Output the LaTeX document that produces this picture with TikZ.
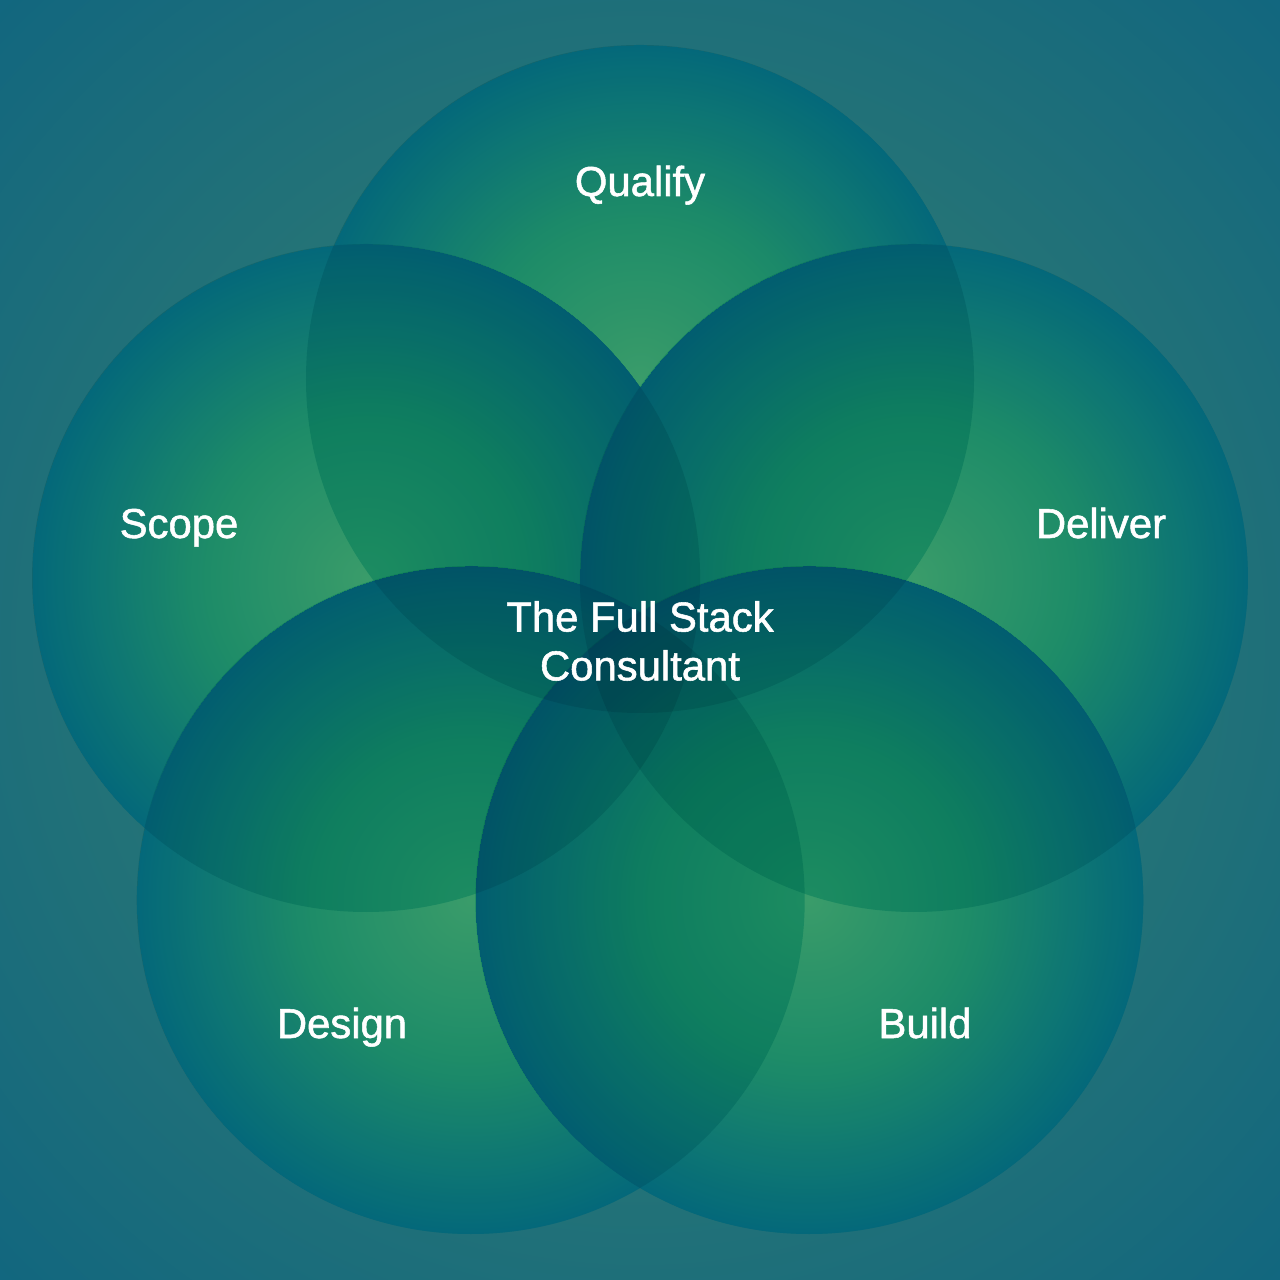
\documentclass[tikz,border=0pt]{standalone}
\usepackage{fontspec}
\setmainfont{Liberation Sans}
\newfontfamily\lblfont[FakeBold=1.3]{Liberation Sans}
\usetikzlibrary{positioning}

\definecolor{bgin}{HTML}{3F8F6E}
\definecolor{bgmid}{HTML}{2B7874}
\definecolor{bgout}{HTML}{11667F}
\definecolor{pin}{HTML}{74AD74}
\definecolor{pmid}{HTML}{3C9C71}
\definecolor{pout}{HTML}{087485}
\definecolor{pdark}{HTML}{80E6EB}

\pgfdeclareradialshading{bgshade}{\pgfpoint{0bp}{0bp}}{color(0bp)=(bgin); color(14bp)=(bgmid); color(36bp)=(bgout)}
\pgfdeclareradialshading{petalshade}{\pgfpoint{0bp}{0bp}}{color(0bp)=(pin); color(12bp)=(pmid); color(25bp)=(pout)}

\tikzset{
  petal/.style={shading=petalshade},
  shadow/.style={fill=pdark},
  lbl/.style={text=white, font=\lblfont\fontsize{11.9}{13.9}\selectfont, inner sep=0pt}
}

\begin{document}
\begin{tikzpicture}
\shade[shading=bgshade] (-6.4,-6.13) rectangle (6.4,6.67);
\useasboundingbox (-6.4,-6.13) rectangle (6.4,6.67);

\coordinate (Q) at (90:2.88);
\coordinate (S) at (162:2.88);
\coordinate (D) at (18:2.88);
\coordinate (G) at (234:2.88);
\coordinate (B) at (306:2.88);

\shade[petal] (Q) circle (3.34);
\shade[petal] (S) circle (3.34);
\shade[petal] (D) circle (3.34);
\shade[petal] (G) circle (3.34);
\shade[petal] (B) circle (3.34);
\begin{scope}[blend mode=multiply]
\fill[shadow] (Q) circle (3.34);
\fill[shadow] (S) circle (3.34);
\fill[shadow] (D) circle (3.34);
\fill[shadow] (G) circle (3.34);
\fill[shadow] (B) circle (3.34);
\end{scope}

\node[lbl, anchor=base] (qualify) at (0,4.71) {Qualify};
\node[lbl, anchor=base] (scope) at (-4.61,1.29) {Scope};
\node[lbl, anchor=base] (deliver) at (4.61,1.29) {Deliver};
\node[lbl, anchor=base] (design) at (-2.98,-3.71) {Design};
\node[lbl, anchor=base] (build) at (2.85,-3.71) {Build};
\node[lbl, align=center] (fsc) at (0,0.26) {The Full Stack\\Consultant};
\end{tikzpicture}
\end{document}
